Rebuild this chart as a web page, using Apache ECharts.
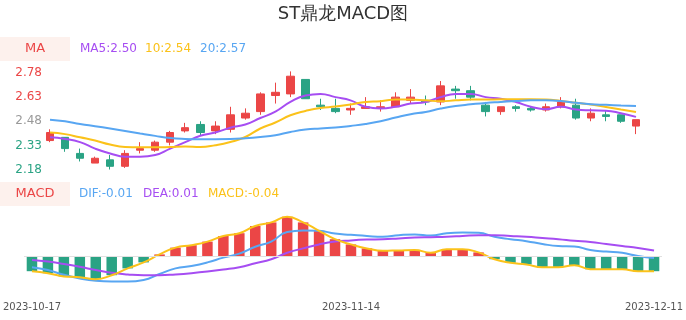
<!DOCTYPE html>
<html>
<head>
<meta charset="utf-8">
<script src="https://cdn.jsdelivr.net/npm/echarts@6/dist/echarts.min.js"></script>
<style>html,body{margin:0;padding:0;background:#fff}#c{width:686px;height:320px}</style>
</head>
<body>
<div id="c"></div>
<script>
var titleText = 'ST鼎龙MACD图';
var dates = ['2023-10-17','2023-10-18','2023-10-19','2023-10-20','2023-10-23','2023-10-24','2023-10-25','2023-10-26','2023-10-27','2023-10-30','2023-10-31',
'2023-11-01','2023-11-02','2023-11-03','2023-11-06','2023-11-07','2023-11-08','2023-11-09','2023-11-10','2023-11-13','2023-11-14','2023-11-15','2023-11-16','2023-11-17','2023-11-20','2023-11-21','2023-11-22','2023-11-23','2023-11-24','2023-11-27','2023-11-28','2023-11-29','2023-11-30',
'2023-12-01','2023-12-04','2023-12-05','2023-12-06','2023-12-07','2023-12-08','2023-12-11'];
// [open, close, low, high]
var candles = [
[2.36,2.41,2.35,2.43],[2.38,2.31,2.29,2.38],[2.28,2.25,2.23,2.31],[2.22,2.25,2.22,2.26],[2.24,2.20,2.18,2.27],
[2.20,2.28,2.19,2.30],[2.30,2.31,2.28,2.35],[2.30,2.35,2.29,2.36],[2.35,2.41,2.33,2.42],[2.42,2.44,2.41,2.47],
[2.46,2.41,2.39,2.48],[2.42,2.45,2.40,2.48],[2.43,2.52,2.41,2.57],[2.50,2.53,2.49,2.56],[2.54,2.65,2.52,2.66],
[2.64,2.66,2.59,2.72],[2.65,2.76,2.63,2.79],[2.74,2.62,2.62,2.74],[2.58,2.57,2.55,2.62],[2.56,2.54,2.53,2.62],
[2.55,2.56,2.52,2.59],[2.56,2.57,2.56,2.63],[2.56,2.57,2.54,2.61],[2.57,2.63,2.57,2.66],[2.61,2.63,2.59,2.68],
[2.61,2.60,2.58,2.64],[2.60,2.70,2.58,2.73],[2.68,2.67,2.62,2.70],[2.67,2.63,2.61,2.70],[2.58,2.54,2.51,2.60],
[2.54,2.57,2.52,2.57],[2.57,2.56,2.54,2.58],[2.56,2.55,2.54,2.57],[2.55,2.57,2.54,2.59],[2.57,2.60,2.56,2.63],
[2.58,2.50,2.49,2.62],[2.50,2.53,2.48,2.56],[2.52,2.51,2.48,2.55],[2.52,2.48,2.47,2.52],[2.45,2.49,2.40,2.49]];
var ma5 = [2.38,2.37,2.35,2.31,2.28,2.26,2.26,2.27,2.31,2.35,2.39,2.41,2.44,2.46,2.50,2.54,2.60,2.64,2.65,2.63,
2.61,2.57,2.56,2.57,2.59,2.60,2.63,2.65,2.65,2.63,2.62,2.60,2.57,2.555,2.57,2.553,2.548,2.546,2.53,2.507];
var ma10 = [2.41,2.40,2.38,2.36,2.335,2.32,2.318,2.318,2.32,2.323,2.32,2.331,2.351,2.382,2.435,2.472,2.517,2.544,2.563,2.571,
2.584,2.60,2.604,2.615,2.615,2.61,2.604,2.61,2.615,2.615,2.617,2.617,2.617,2.615,2.606,2.595,2.584,2.569,2.553,2.538];
var ma20 = [2.49,2.48,2.463,2.449,2.435,2.42,2.404,2.389,2.376,2.37,2.368,2.368,2.369,2.374,2.382,2.393,2.413,2.428,2.435,2.441,
2.451,2.463,2.48,2.503,2.524,2.538,2.559,2.575,2.585,2.594,2.60,2.606,2.61,2.61,2.606,2.595,2.586,2.582,2.578,2.575];
var macdHist = [-0.038,-0.043,-0.051,-0.053,-0.058,-0.048,-0.031,-0.016,0.004,0.021,0.027,0.036,0.050,0.057,0.075,0.084,0.098,0.084,0.063,0.042,
0.029,0.019,0.013,0.014,0.015,0.008,0.017,0.017,0.009,-0.008,-0.017,-0.021,-0.028,-0.028,-0.023,-0.033,-0.033,-0.033,-0.038,-0.038];
var dif = [-0.028,-0.035,-0.047,-0.056,-0.062,-0.064,-0.064,-0.060,-0.045,-0.031,-0.025,-0.016,-0.004,0.006,0.023,0.036,0.060,0.064,0.063,0.056,
0.053,0.050,0.048,0.052,0.054,0.051,0.057,0.059,0.058,0.048,0.042,0.037,0.030,0.025,0.024,0.015,0.011,0.008,0.000,-0.005];
var dea = [-0.010,-0.014,-0.020,-0.027,-0.035,-0.042,-0.046,-0.048,-0.048,-0.046,-0.043,-0.039,-0.034,-0.028,-0.018,-0.008,0.008,0.019,0.029,0.036,
0.039,0.041,0.042,0.044,0.046,0.047,0.048,0.050,0.052,0.052,0.050,0.048,0.045,0.042,0.038,0.035,0.030,0.025,0.020,0.014];
var priceTicks = [2.18, 2.33, 2.48, 2.63, 2.78];
var maLegend = ['MA5:2.50', '10:2.54', '20:2.57'];
var macdLegend = ['DIF:-0.01', 'DEA:0.01', 'MACD:-0.04'];
var xLabelIdx = [0, 20, 39];

var RED = '#eb4646', GREEN = '#2aa384', PURPLE = '#a64df2', GOLD = '#fbc21a', BLUE = '#58a6f2';
var FONT = '"DejaVu Sans", sans-serif';
var midTick = priceTicks[2];

var chart = echarts.init(document.getElementById('c'), null, {renderer: 'canvas'});
var option = {
  animation: false,
  textStyle: {fontFamily: FONT},
  graphic: [
    {type: 'text', left: 'center', top: 5, style: {text: titleText, fontSize: 18, fill: '#333', fontFamily: FONT}},
    {type: 'rect', shape: {x: 0, y: 37, width: 70, height: 24}, style: {fill: '#fdf1ed'}},
    {type: 'text', x: 35, y: 49, style: {text: 'MA', fontSize: 13, fontFamily: FONT, fill: RED, align: 'center', verticalAlign: 'middle'}},
    {type: 'text', x: 80, y: 49, style: {text: maLegend[0], fontSize: 12, fontFamily: FONT, fill: PURPLE, verticalAlign: 'middle'}},
    {type: 'text', x: 145, y: 49, style: {text: maLegend[1], fontSize: 12, fontFamily: FONT, fill: GOLD, verticalAlign: 'middle'}},
    {type: 'text', x: 200, y: 49, style: {text: maLegend[2], fontSize: 12, fontFamily: FONT, fill: BLUE, verticalAlign: 'middle'}},
    {type: 'rect', shape: {x: 0, y: 182, width: 70, height: 24}, style: {fill: '#fdf1ed'}},
    {type: 'text', x: 35, y: 194, style: {text: 'MACD', fontSize: 13, fontFamily: FONT, fill: RED, align: 'center', verticalAlign: 'middle'}},
    {type: 'text', x: 79, y: 194, style: {text: macdLegend[0], fontSize: 12, fontFamily: FONT, fill: BLUE, verticalAlign: 'middle'}},
    {type: 'text', x: 143, y: 194, style: {text: macdLegend[1], fontSize: 12, fontFamily: FONT, fill: PURPLE, verticalAlign: 'middle'}},
    {type: 'text', x: 208, y: 194, style: {text: macdLegend[2], fontSize: 12, fontFamily: FONT, fill: GOLD, verticalAlign: 'middle'}}
  ],
  grid: [
    {left: 50, right: 50, top: 73, height: 96.5},
    {left: 20, right: 20, top: 212, bottom: 28}
  ],
  xAxis: [
    {type: 'category', gridIndex: 0, data: dates, boundaryGap: false, show: false},
    {type: 'category', gridIndex: 1, data: dates, boundaryGap: true,
     axisLine: {show: false}, axisTick: {show: false}, splitLine: {show: false},
     axisLabel: {color: '#555', fontSize: 10, fontFamily: FONT, margin: 10, showMinLabel: true, showMaxLabel: true,
       interval: function (i) { return xLabelIdx.indexOf(i) >= 0; }}}
  ],
  yAxis: [
    {type: 'value', gridIndex: 0, min: priceTicks[0], max: priceTicks[priceTicks.length - 1], interval: 0.15,
     axisLine: {show: false}, axisTick: {show: false}, splitLine: {show: false},
     axisLabel: {fontSize: 12, fontFamily: FONT, margin: 8,
       formatter: function (v) { return (+v).toFixed(2); },
       color: function (v) { v = +v; if (Math.abs(v - midTick) < 0.001) return '#999'; return v > midTick ? RED : GREEN; }}},
    {type: 'value', gridIndex: 1, min: -0.09, max: 0.11, show: false, splitLine: {show: false}}
  ],
  series: [
    {type: 'candlestick', xAxisIndex: 0, yAxisIndex: 0, data: candles, barWidth: 8,
     itemStyle: {color: RED, color0: GREEN, borderColor: RED, borderColor0: GREEN, borderWidth: 1}},
    {type: 'line', xAxisIndex: 0, yAxisIndex: 0, data: ma5, smooth: true, symbol: 'none', lineStyle: {color: PURPLE, width: 2}},
    {type: 'line', xAxisIndex: 0, yAxisIndex: 0, data: ma10, smooth: true, symbol: 'none', lineStyle: {color: GOLD, width: 2}},
    {type: 'line', xAxisIndex: 0, yAxisIndex: 0, data: ma20, smooth: true, symbol: 'none', lineStyle: {color: BLUE, width: 2}},
    {type: 'bar', xAxisIndex: 1, yAxisIndex: 1, barWidth: 10.5,
     data: macdHist.map(function (v) { return {value: v, itemStyle: {color: v >= 0 ? RED : GREEN}}; }),
     markLine: {silent: true, symbol: 'none', label: {show: false}, lineStyle: {color: '#e0e0e0', type: 'solid', width: 1},
       data: [{yAxis: 0}]}},
    {type: 'line', xAxisIndex: 1, yAxisIndex: 1, data: dif, smooth: true, symbol: 'none', lineStyle: {color: BLUE, width: 2}},
    {type: 'line', xAxisIndex: 1, yAxisIndex: 1, data: dea, smooth: true, symbol: 'none', lineStyle: {color: PURPLE, width: 2}},
    {type: 'line', xAxisIndex: 1, yAxisIndex: 1, data: macdHist, smooth: true, symbol: 'none', lineStyle: {color: GOLD, width: 2}}
  ]
};
chart.setOption(option);
</script>
</body>
</html>
